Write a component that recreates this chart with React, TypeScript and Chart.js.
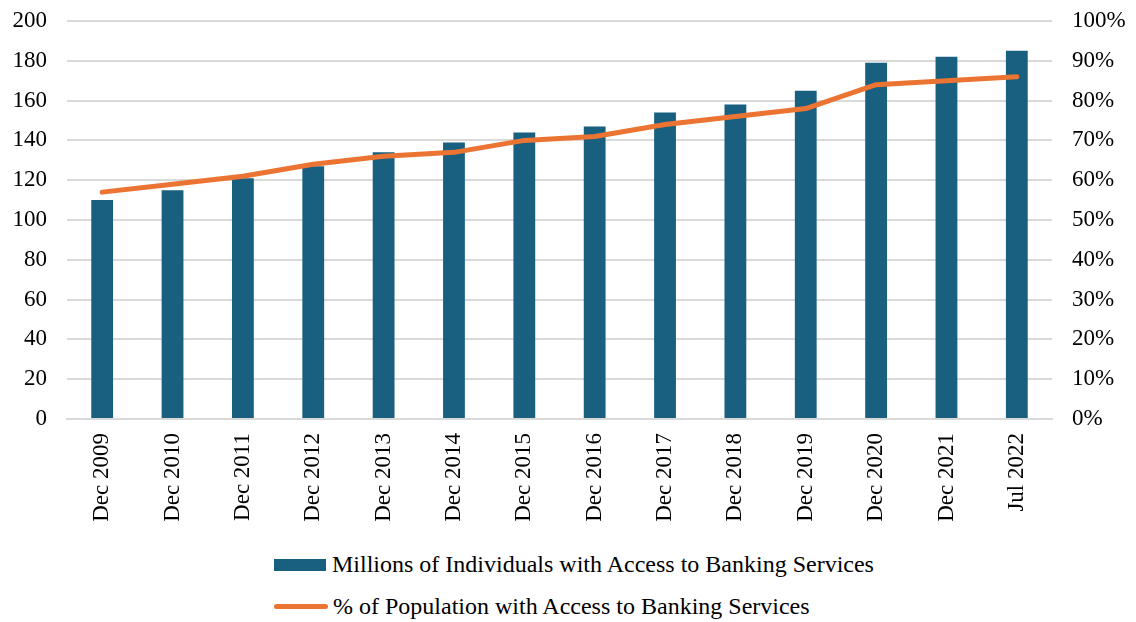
import React, { useEffect, useRef } from "react";
import { Chart, registerables } from "chart.js";

Chart.register(...registerables);

const categories = [
  "Dec 2009", "Dec 2010", "Dec 2011", "Dec 2012", "Dec 2013", "Dec 2014", "Dec 2015",
  "Dec 2016", "Dec 2017", "Dec 2018", "Dec 2019", "Dec 2020", "Dec 2021", "Jul 2022",
];
const individualsMillions = [110, 115, 121, 127, 134, 139, 144, 147, 154, 158, 165, 179, 182, 185];
const populationPct = [57, 59, 61, 64, 66, 67, 70, 71, 74, 76, 78, 84, 85, 86];
const barLabel = "Millions of Individuals with Access to Banking Services";
const lineLabel = "% of Population with Access to Banking Services";

const BAR_COLOR = "#185F80";
const LINE_COLOR = "#EC7432";
const GRID_COLOR = "#d9d9d9";
const FONT = "Liberation Serif";

export default function App() {
  const canvasRef = useRef<HTMLCanvasElement | null>(null);

  useEffect(() => {
    const canvas = canvasRef.current;
    if (!canvas) return;
    const noPad = (w: number) => (scale: any) => {
      scale.width = w;
      scale.paddingTop = 0;
      scale.paddingBottom = 0;
    };
    const chart = new Chart(canvas, {
      type: "bar",
      data: {
        labels: categories,
        datasets: [
          {
            type: "line",
            label: lineLabel,
            data: populationPct,
            yAxisID: "y1",
            borderColor: LINE_COLOR,
            backgroundColor: LINE_COLOR,
            borderWidth: 5,
            borderCapStyle: "round",
            borderJoinStyle: "round",
            pointRadius: 0,
            tension: 0,
            order: 0,
          },
          {
            type: "bar",
            label: barLabel,
            data: individualsMillions,
            yAxisID: "y",
            backgroundColor: BAR_COLOR,
            borderWidth: 0,
            barPercentage: 0.31,
            categoryPercentage: 1,
            order: 1,
          },
        ],
      },
      options: {
        responsive: false,
        animation: false,
        layout: { padding: { top: 21, left: 0, right: 0, bottom: 0 } },
        plugins: {
          legend: { display: false },
          tooltip: { enabled: false },
        },
        scales: {
          x: {
            grid: { display: false, drawTicks: false },
            border: { display: true, color: GRID_COLOR, width: 2 },
            ticks: {
              color: "#000",
              font: { family: FONT, size: 23 },
              minRotation: 90,
              maxRotation: 90,
              padding: 14,
              autoSkip: false,
            },
            afterFit: (scale: any) => {
              scale.height = 121;
            },
          },
          y: {
            position: "left",
            min: 0,
            max: 200,
            ticks: {
              stepSize: 20,
              color: "#000",
              font: { family: FONT, size: 23 },
              padding: 20,
            },
            grid: { color: GRID_COLOR, lineWidth: 2, drawTicks: false },
            border: { display: false },
            afterFit: noPad(67),
          },
          y1: {
            position: "right",
            min: 0,
            max: 100,
            ticks: {
              stepSize: 10,
              color: "#000",
              font: { family: FONT, size: 23 },
              padding: 20,
              callback: (v: any) => v + "%",
            },
            grid: { display: false, drawTicks: false },
            border: { display: false },
            afterFit: noPad(84),
          },
        },
      },
    });
    return () => chart.destroy();
  }, []);

  const textStyle: React.CSSProperties = {
    position: "absolute",
    left: 332,
    fontFamily: FONT,
    fontSize: 24,
    lineHeight: "26px",
    color: "#000",
    whiteSpace: "nowrap",
  };

  return (
    <div style={{ position: "absolute", left: 0, top: 0, width: 1136, height: 622, background: "#fff" }}>
      <canvas ref={canvasRef} width={1136} height={540} style={{ position: "absolute", left: 0, top: 0 }} />
      <div style={{ position: "absolute", left: 274, top: 559, width: 52, height: 12, background: BAR_COLOR }} />
      <div style={{ ...textStyle, top: 551 }}>{barLabel}</div>
      <div style={{ position: "absolute", left: 274, top: 604, width: 54, height: 5, borderRadius: 3, background: LINE_COLOR }} />
      <div style={{ ...textStyle, left: 333, top: 593 }}>{lineLabel}</div>
    </div>
  );
}
